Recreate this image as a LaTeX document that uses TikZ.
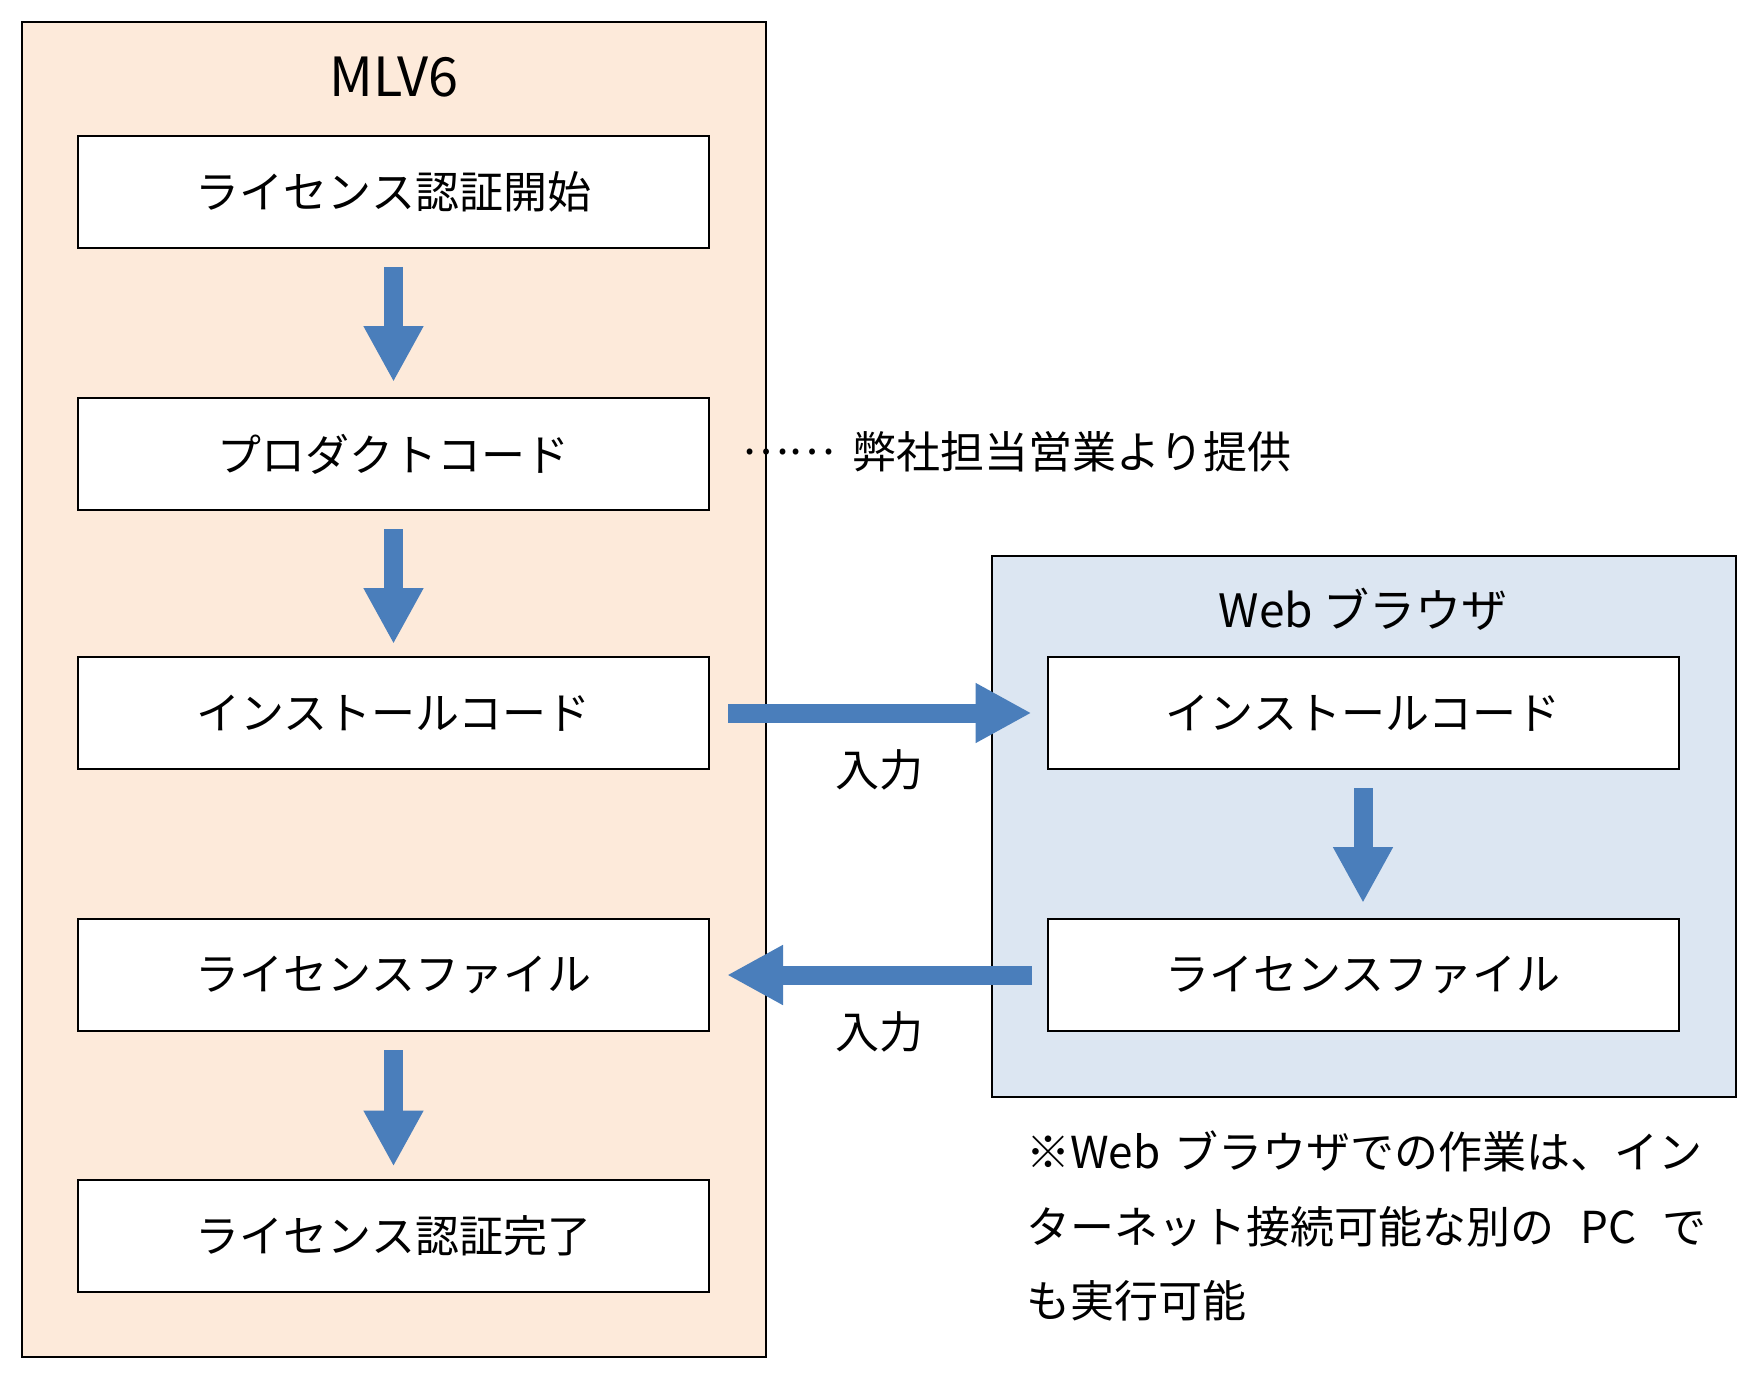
\documentclass[tikz,border=0pt]{standalone}
\usepackage{fontspec}
\setmainfont{Noto Sans CJK JP}
\usetikzlibrary{arrows.meta}
\definecolor{peach}{RGB}{253,234,218}
\definecolor{paleblue}{RGB}{220,230,242}
\definecolor{arrowblue}{RGB}{74,126,187}
\tikzset{
  panel/.style={draw=black, line width=2pt, inner sep=0pt},
  stepbox/.style={draw=black, fill=white, line width=2pt, minimum width=631pt, minimum height=112pt, inner sep=0pt,
    font=\fontsize{44pt}{52pt}\selectfont},
  lbl/.style={inner sep=0pt, font=\fontsize{44pt}{52pt}\selectfont},
  blockarrow/.style={draw=arrowblue, line width=19pt, line cap=butt,
    -{Triangle[length=56pt,width=56pt]}}
}
\begin{document}
\begin{tikzpicture}[x=1pt,y=-1pt]
\useasboundingbox[fill=white] (0,0) rectangle (1758,1380);
% panels
\node[panel, fill=peach, minimum width=744pt, minimum height=1335pt] (lp) at (394,689.5) {};
\node[panel, fill=paleblue, minimum width=744pt, minimum height=541pt] (rp) at (1364,826.5) {};
% titles
\node[lbl, font=\fontsize{54pt}{60pt}\selectfont] (t1) at (394,77) {MLV6};
\node[lbl, font=\fontsize{46pt}{54pt}\selectfont] (t2) at (1363,609) {Web ブラウザ};
% left boxes
\node[stepbox] (b1) at (393.5,192) {ライセンス認証開始};
\node[stepbox] (b2) at (393.5,454) {プロダクトコード};
\node[stepbox] (b3) at (393.5,713) {インストールコード};
\node[stepbox] (b4) at (393.5,975) {ライセンスファイル};
\node[stepbox] (b5) at (393.5,1235.5) {ライセンス認証完了};
% right boxes
\node[stepbox] (r1) at (1363,713) {インストールコード};
\node[stepbox] (r2) at (1363,975) {ライセンスファイル};
% arrows
\draw[blockarrow] ([yshift=-18pt]b1.south) -- ([yshift=15pt]b2.north);
\draw[blockarrow] ([yshift=-18pt]b2.south) -- ([yshift=12pt]b3.north);
\draw[blockarrow] ([yshift=-18pt]b4.south) -- ([yshift=12pt]b5.north);
\draw[blockarrow] ([yshift=-18pt]r1.south) -- ([yshift=15pt]r2.north);
\draw[blockarrow] ([xshift=18pt]b3.east) -- ([xshift=-15pt]r1.west);
\draw[blockarrow] ([xshift=-15pt]r2.west) -- ([xshift=17pt]b4.east);
% labels
\node[lbl] (in1) at (879,770) {入力};
\node[lbl] (in2) at (879,1032) {入力};
\node[lbl, anchor=west] (dots) at (742,452) {……};
\node[lbl, anchor=west] (sup) at (852,452) {弊社担当営業より提供};
% note
\node[lbl, anchor=west] (n1) at (1026,1151) {※Web\hspace{0.1em} ブラウザでの作業は、イン};
\node[lbl, anchor=west] (n2) at (1026,1227) {ターネット接続可能な別の\hspace{0.6em}PC\hspace{0.6em}で};
\node[lbl, anchor=west] (n3) at (1026,1301) {も実行可能};
\end{tikzpicture}
\end{document}
